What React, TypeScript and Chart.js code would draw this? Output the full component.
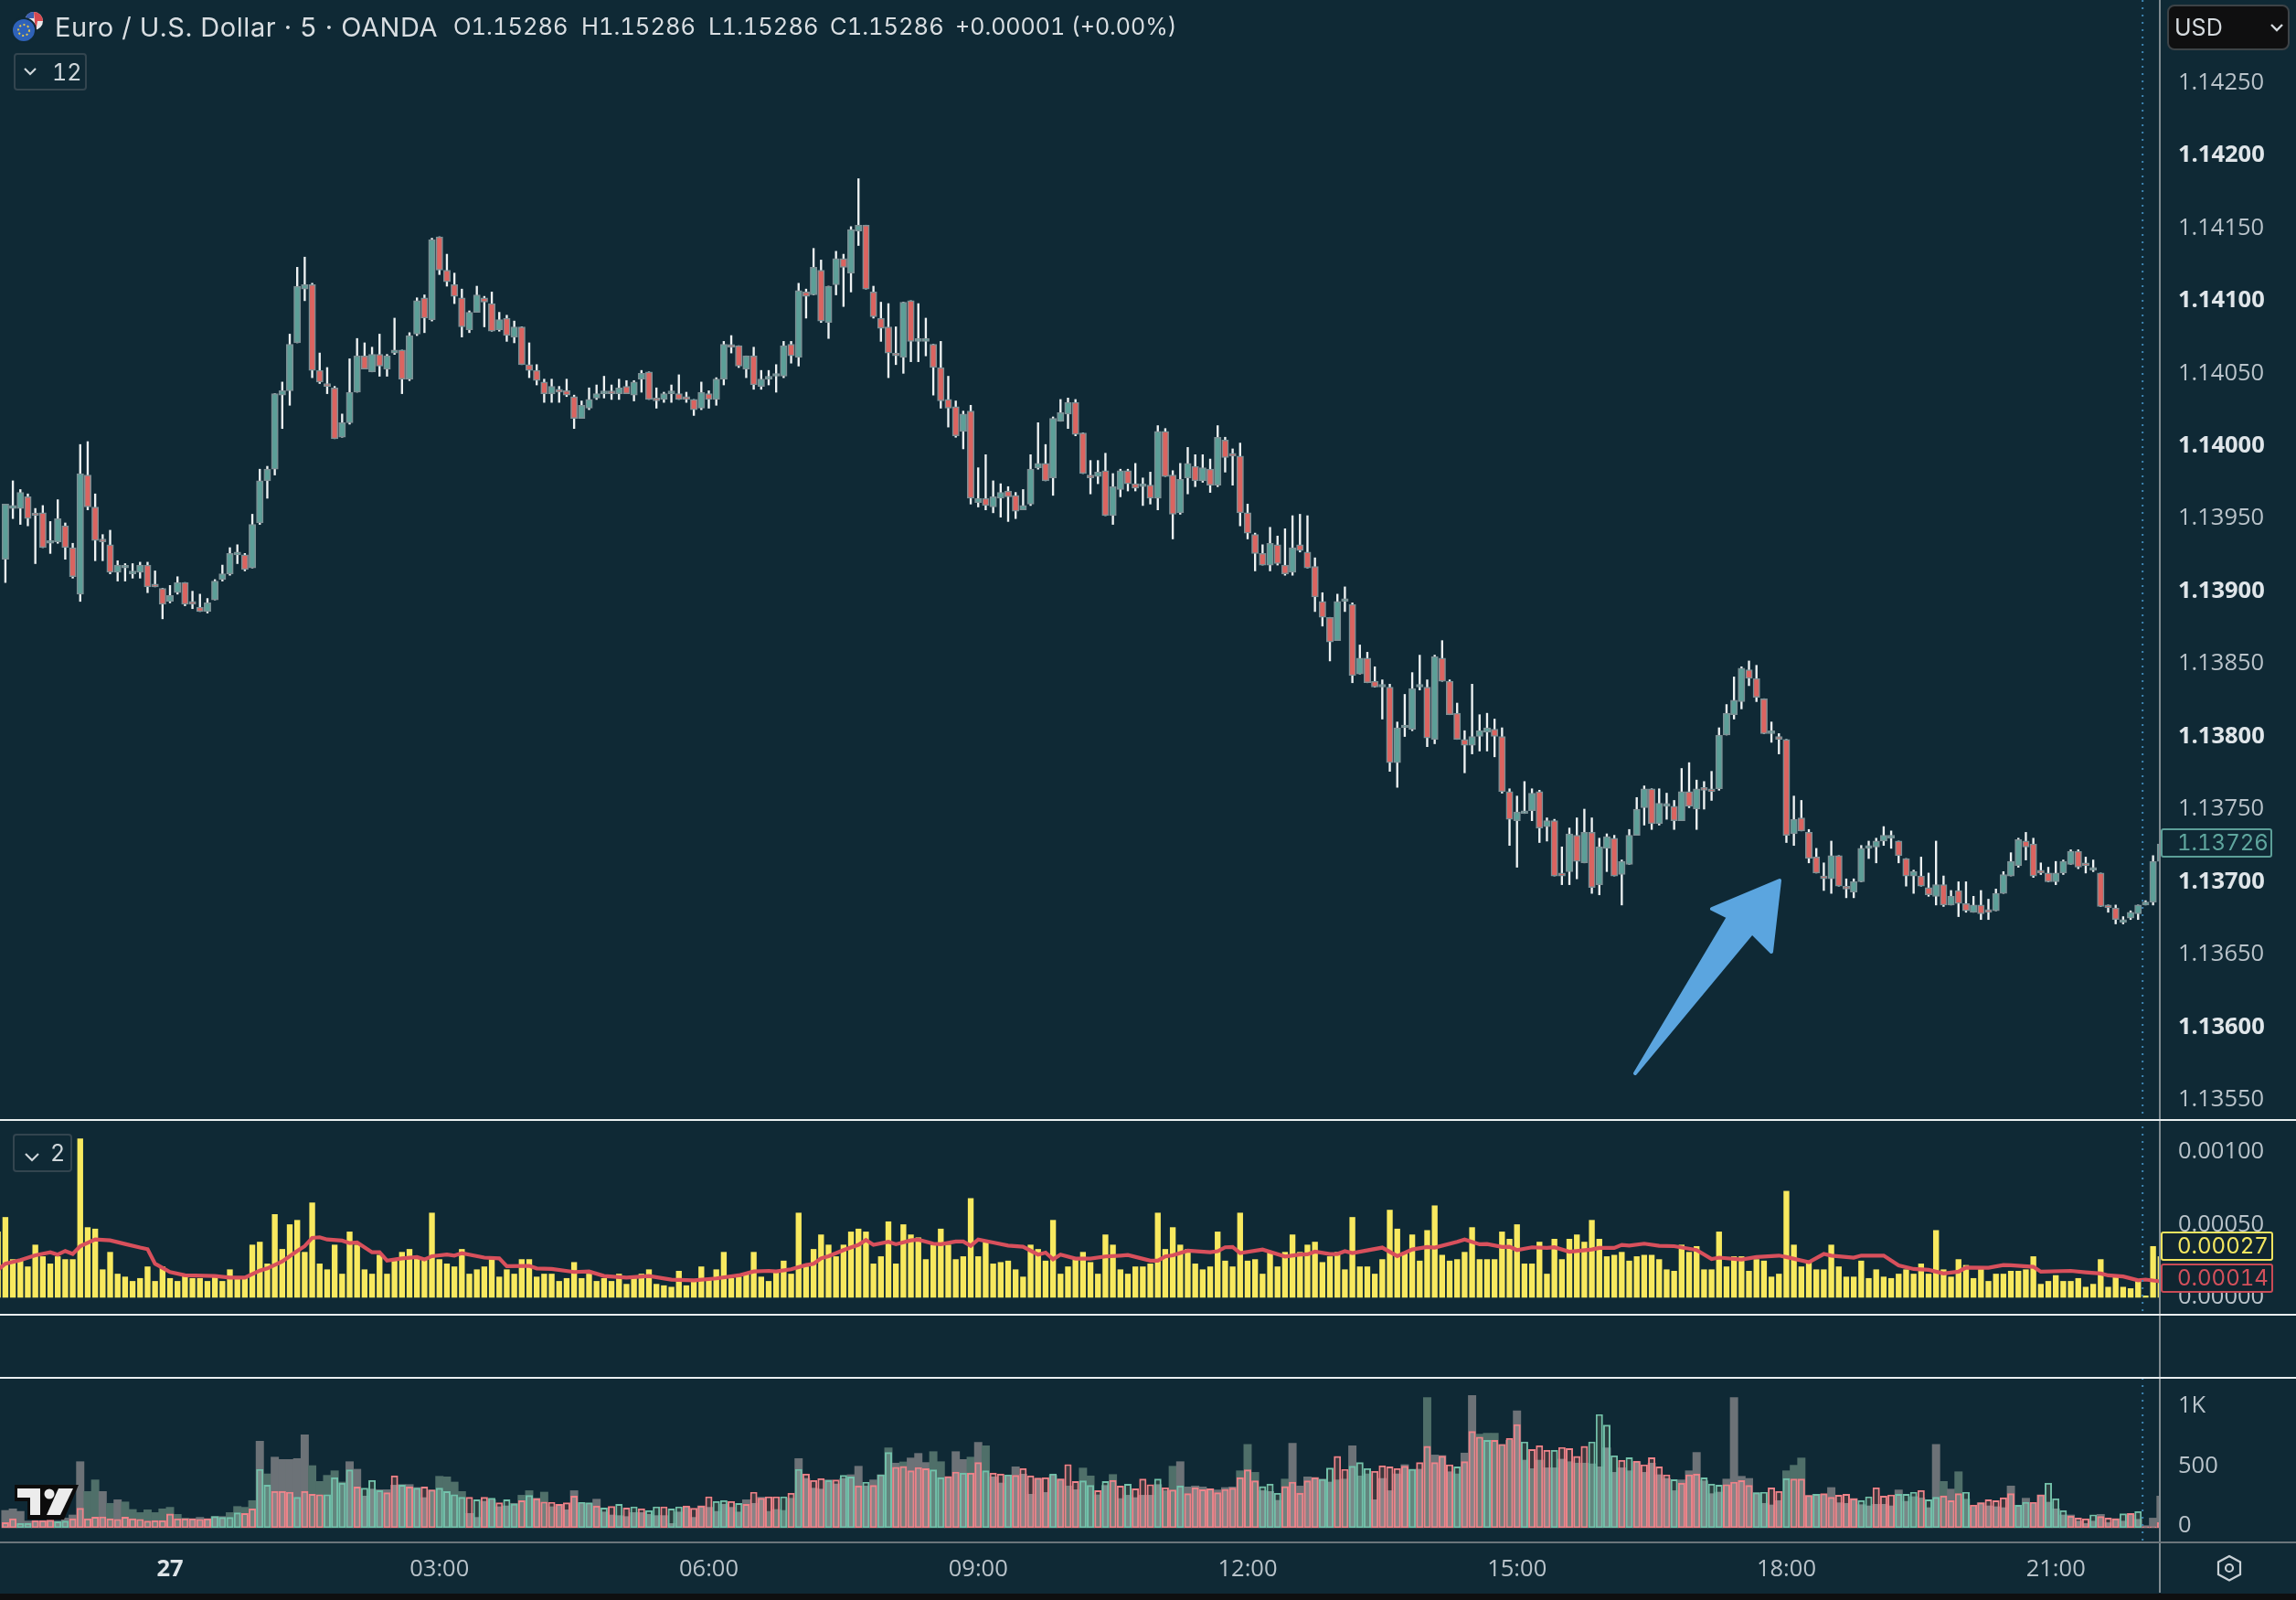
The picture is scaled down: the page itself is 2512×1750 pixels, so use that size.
import React, { useEffect, useRef } from "react";
import { Chart, registerables } from "chart.js";

Chart.register(...registerables);

// Candles: values are 1e-5 above 1.13000
const opens = [
922,957,957,965,953,954,933,934,945,930,
898,980,958,935,932,913,916,912,913,918,
904,902,893,899,906,893,889,886,894,908,
912,925,925,916,947,976,984,1035,1038,1071,
1108,1111,1052,1043,1040,1006,1016,1037,1062,1051,
1063,1053,1064,1066,1046,1077,1102,1087,1144,1121,
1111,1102,1080,1092,1102,1098,1080,1088,1075,1082,
1056,1052,1044,1036,1039,1038,1034,1019,1026,1033,
1036,1037,1036,1041,1035,1046,1051,1033,1032,1036,
1036,1033,1032,1026,1036,1032,1046,1069,1069,1053,
1062,1041,1046,1048,1048,1070,1061,1106,1104,1121,
1085,1111,1129,1119,1148,1152,1106,1088,1082,1063,
1061,1100,1072,1072,1070,1054,1032,1027,1010,1024,
961,964,958,964,969,966,956,960,985,988,
978,1017,1022,1030,1009,980,979,983,952,970,
983,974,972,973,964,1010,980,954,978,986,
976,984,973,1004,994,993,954,939,926,918,
932,918,913,932,927,917,893,882,866,893,
891,843,854,838,834,834,782,806,805,834,
834,798,854,838,816,798,794,800,803,805,
800,762,742,747,749,762,738,742,706,707,
732,713,734,698,723,730,705,712,732,751,
764,740,752,752,742,762,750,764,764,764,
801,815,824,846,840,826,802,800,798,733,
744,734,717,704,702,718,696,693,700,723,
724,728,730,728,716,704,704,696,690,698,
684,694,685,679,684,680,680,692,704,711,
728,726,708,706,700,706,712,721,712,708,
706,684,682,672,675,678,684,686,714];
const highs = [
960,976,970,967,957,959,948,963,947,933,
1001,1003,967,939,942,921,919,919,920,920,
914,902,904,910,906,900,898,895,908,918,
930,932,926,953,984,986,1036,1044,1077,1123,
1130,1112,1064,1054,1041,1022,1060,1074,1071,1068,
1077,1063,1088,1066,1078,1102,1104,1143,1144,1132,
1119,1108,1093,1110,1103,1106,1092,1090,1086,1082,
1071,1056,1046,1046,1041,1046,1035,1031,1040,1042,
1048,1042,1046,1045,1045,1052,1051,1040,1037,1042,
1049,1037,1032,1044,1038,1047,1072,1076,1069,1062,
1068,1052,1052,1056,1072,1072,1112,1108,1136,1128,
1110,1134,1132,1151,1184,1152,1110,1099,1098,1082,
1099,1100,1098,1088,1070,1072,1048,1031,1024,1028,
985,994,976,974,972,968,970,994,1016,1001,
1020,1032,1033,1032,1009,990,990,995,981,984,
984,988,978,982,1014,1012,983,988,999,994,
994,991,1014,1006,998,1002,960,940,932,944,
938,943,952,953,952,923,899,882,898,903,
892,863,858,848,839,836,810,829,844,856,
839,856,866,839,823,804,836,815,816,812,
806,764,759,769,764,763,744,743,724,737,
744,750,744,730,733,732,715,736,758,766,
764,764,761,756,778,782,770,769,776,806,
822,841,848,852,849,826,810,802,798,759,
756,736,723,713,728,718,702,702,725,728,
730,738,735,728,716,708,717,706,728,704,
694,700,700,690,694,688,695,707,720,730,
734,730,713,710,714,715,722,722,717,715,
706,684,684,676,680,684,687,718,734];
const lows = [
906,950,946,945,919,930,926,933,922,909,
893,956,921,921,912,907,907,909,909,899,
903,881,892,898,890,888,886,885,894,907,
911,919,914,916,946,964,980,1012,1028,1071,
1100,1047,1043,1036,1005,1006,1015,1037,1053,1051,
1048,1048,1063,1036,1045,1076,1078,1086,1118,1110,
1098,1075,1078,1092,1082,1079,1079,1072,1071,1056,
1047,1042,1030,1030,1030,1034,1012,1019,1025,1032,
1033,1032,1032,1036,1031,1037,1032,1026,1030,1030,
1032,1030,1021,1025,1026,1028,1042,1064,1054,1047,
1039,1039,1042,1037,1047,1057,1055,1088,1104,1085,
1074,1104,1096,1106,1138,1108,1088,1072,1047,1056,
1050,1058,1058,1062,1035,1026,1013,1006,998,960,
958,956,954,951,948,950,956,959,984,976,
966,1017,1012,1007,981,967,974,952,946,965,
969,969,959,960,956,979,936,953,967,972,
975,968,972,982,973,945,936,914,918,914,
918,911,911,927,916,886,876,852,866,886,
837,843,837,834,812,776,765,800,804,832,
793,795,838,815,798,775,788,790,790,786,
761,725,710,747,742,727,728,704,698,698,
702,713,692,691,707,704,684,712,732,739,
736,739,743,736,742,751,736,750,756,763,
801,812,819,835,824,802,796,788,727,725,
735,713,706,694,692,697,689,689,700,716,
713,725,723,713,697,692,697,690,684,683,
684,676,679,679,674,674,680,692,704,710,
715,703,705,700,698,705,712,709,706,707,
683,679,671,671,674,674,684,684,712];
const closes = [
960,959,968,950,952,930,934,950,930,910,
981,958,935,934,913,918,916,912,918,903,
903,891,897,906,891,891,886,892,907,912,
926,926,915,946,976,984,1036,1038,1070,1110,
1111,1052,1044,1041,1005,1016,1037,1062,1053,1063,
1055,1062,1066,1046,1076,1100,1088,1142,1121,1113,
1103,1082,1092,1104,1099,1079,1087,1076,1082,1056,
1052,1045,1036,1041,1037,1035,1019,1028,1032,1036,
1037,1036,1040,1036,1044,1050,1032,1031,1036,1037,
1032,1032,1025,1037,1032,1046,1070,1068,1055,1062,
1042,1046,1047,1049,1069,1062,1107,1103,1123,1086,
1110,1129,1123,1149,1152,1108,1089,1081,1064,1062,
1099,1072,1073,1074,1054,1031,1026,1007,1022,964,
964,959,965,968,965,955,959,984,988,976,
1019,1023,1030,1008,981,978,982,952,972,983,
974,971,972,964,1010,979,953,977,988,976,
985,973,1006,992,993,954,940,926,918,933,
919,912,930,928,916,896,882,865,893,893,
842,854,837,834,834,782,806,807,833,834,
799,855,838,815,798,794,800,804,806,800,
762,743,748,748,761,737,742,704,704,733,
714,734,696,724,731,704,714,732,750,764,
740,754,753,742,762,752,764,763,762,801,
816,825,847,840,827,802,802,798,732,743,
735,716,706,702,718,697,695,700,723,724,
728,732,732,718,704,707,697,691,698,684,
690,685,680,684,678,679,692,705,714,729,
724,704,706,700,706,714,721,710,711,708,
683,682,674,674,679,684,686,714,726];

// First ATR value belongs to the bar just left of the first candle (1e-5 units)
const atrValues = [45,
55,26,26,21,36,28,23,28,26,26,109,48,47,19,31,16,14,11,13,21,
11,21,13,11,16,13,13,11,14,11,19,13,13,36,38,23,57,33,50,53,
31,65,23,19,36,16,45,36,19,16,29,16,25,31,33,27,26,58,26,23,
21,33,16,19,21,26,14,19,16,26,26,14,16,16,11,13,24,13,16,11,
13,11,16,9,13,16,19,9,8,7,18,8,11,21,13,19,31,13,14,16,
31,14,11,18,25,16,58,21,33,43,36,28,36,45,47,45,23,28,52,23,
50,43,41,26,36,47,36,26,28,68,28,38,23,24,25,19,14,36,33,25,
53,16,21,26,31,24,16,43,36,19,16,21,21,23,58,33,48,36,33,23,
19,21,45,25,21,58,25,26,16,31,21,31,43,31,36,38,24,28,31,19,
55,21,21,16,26,60,47,31,43,25,46,63,29,25,26,31,48,26,26,26,
45,40,50,23,23,38,16,40,26,40,43,38,53,40,28,29,31,25,28,29,
29,26,19,18,36,31,35,19,19,45,21,28,28,18,26,25,14,16,73,36,
21,25,19,19,36,21,14,14,25,13,19,14,13,16,19,16,23,16,46,19,
14,26,22,13,21,11,16,16,18,18,19,28,9,11,15,11,11,13,7,9,
26,7,14,7,6,11,1,35,28];

const atrMaBars = [-1,0,2,4,6,7,8,9,10,12,14,16,18,19,20,22,24,28,30,32,34,35,37,39,40,41,42,43,45,46,47,49,50,51,53,55,56,57,59,60,61,64,66,67,70,71,73,76,78,80,83,86,89,92,95,98,100,
102,103,105,107,108,109,110,112,114,115,116,118,119,121,122,124,125,127,128,129,130,132,134,136,138,139,140,141,143,145,147,149,150,153,154,155,156,158,161,162,163,164,165,168,171,173,174,175,177,178,179,180,184,186,188,190,191,194,195,197,198,200,201,202,
204,206,207,209,212,213,215,216,217,219,221,223,226,228,229,232,234,237,238,241,243,244,247,248,251,253,255,257,259,261,262,265,267,268,271,272,276,278,280,281,283,285,286,288];
const atrMaValues = [18.9,23.1,25.6,28.9,31,29.4,31.9,29.8,35.2,39.8,39.2,36.7,34.2,33.1,23.1,17.4,15.1,14.7,13.6,13.6,18.4,19.9,24.7,31.9,35.2,40.9,41.3,39.8,39,37.3,37.7,31,31,25.2,26.8,27.7,26,28.3,29.4,28.7,30.4,27.3,26.8,21.4,21.6,19.9,19.5,17.4,17.8,14.7,13.6,14.7,12.2,11.7,13,15.1,17.8,
18.2,17.8,19.3,22.2,23.1,26.8,28.3,32.5,36.1,39.4,36.1,38.2,36.5,39.2,39.6,36.9,36.5,38.4,38.4,35.4,39.8,37.7,35.6,34.8,29.4,30.8,26.2,29.4,26.6,26.6,28.1,28.7,29.1,25.2,25.2,28.1,28.9,32.1,31,31.7,34.4,34.6,30.4,32.9,28.1,29.4,29.6,31.4,29.8,29.8,31.7,30.4,34.2,28.3,32.9,34.6,34.2,38.2,39.8,36.5,36.7,34.6,34.8,32.5,34.4,
34,34.4,31.4,32.9,34,34,36.1,35.6,36.9,35.4,35.2,32.5,26.4,27.3,26,27.7,28.7,27.7,24.1,29.8,28.7,27.3,28.7,28.7,22,19.5,18.9,16.4,17.6,20.5,20.3,22.2,22,21,17.6,18.2,17.2,16.4,15.1,14.3,11.7,12.2,10.9,10.1,13.6];

// Filled volume bars (behind) and outlined volume bars (front)
const volFilled = [
145,158,137,56,56,56,56,56,81,107,552,303,400,303,204,234,216,153,127,150,
127,158,171,112,81,76,87,76,94,94,127,178,171,227,723,450,590,570,570,578,
776,519,387,438,476,382,552,489,265,323,318,318,356,361,361,336,252,316,430,425,
382,303,120,87,221,234,176,183,204,272,310,247,298,176,196,150,310,209,204,239,
132,107,102,94,127,127,112,102,102,36,132,171,87,183,171,137,196,171,132,234,
204,255,137,153,145,247,578,412,331,323,400,366,412,443,514,349,400,443,667,540,
550,583,621,545,636,552,425,636,570,590,713,685,425,374,438,509,448,280,412,295,
438,407,349,318,499,433,275,354,445,244,272,252,272,272,361,310,514,552,341,349,
341,323,316,336,341,476,697,463,310,303,229,407,705,349,425,420,407,382,400,407,
685,433,450,234,412,310,450,527,489,489,1087,608,603,468,450,624,1105,781,789,789,
697,730,977,565,494,565,501,501,573,552,540,540,534,509,667,463,501,476,552,463,
540,443,412,310,400,476,629,392,285,298,407,1087,430,412,293,204,191,227,476,522,
583,270,280,280,336,209,204,244,193,183,196,196,183,316,221,260,249,168,697,387,
323,468,239,176,209,183,176,168,349,188,247,209,275,214,158,107,107,56,36,56,
112,43,76,56,107,71,18,81,265];
const volOutlined = [
43,76,38,38,61,61,64,51,56,76,163,76,89,92,76,71,89,76,71,56,
61,61,115,76,76,76,71,76,94,87,87,125,120,158,489,356,305,305,298,255,
305,280,277,277,420,374,484,341,331,397,310,293,435,356,341,331,341,316,331,303,
277,255,255,234,255,247,209,234,199,227,270,244,216,214,196,209,265,214,209,183,
165,178,196,165,176,160,145,176,176,158,176,183,163,183,260,221,229,221,204,196,
298,247,260,260,260,290,489,450,397,412,397,400,438,425,351,382,354,443,629,506,
512,476,504,494,484,420,428,466,458,458,545,476,458,450,443,438,496,435,415,420,
450,407,529,387,392,354,310,387,397,349,364,326,407,361,407,336,316,351,285,336,
318,326,293,321,331,420,484,392,344,366,290,344,382,290,392,420,405,499,596,489,
514,545,496,473,519,509,496,514,489,545,680,545,598,527,509,552,804,758,730,730,
697,748,863,718,654,687,649,649,672,662,596,680,718,947,858,603,565,585,557,527,
585,509,443,402,374,443,450,417,366,356,361,382,394,354,293,298,333,305,412,407,
407,270,280,285,255,272,280,244,229,260,336,265,275,280,280,298,313,234,255,267,
227,285,298,191,209,234,227,252,285,188,214,214,275,374,244,145,99,81,76,109,
94,81,76,117,120,137,10,10,43];
const volOutlineSides = "rrggrrrggrrrrrrrrrrrrrrrrrrrggggrrggrrrgrrrggggrgggrrgrgrrggggrgrgrggrgrrrrrrggrgrgrgrggrggrrrrggrgrrrrrgrgrrrgrggrgrggrrrrrggrrgrrgrrgrrrrrgrrrggrgrrgrrrgrrgrrrrrrrrrrgggrrrrrggrrgggrrrrrgrrrrrgrrrgrrrrgrrrgrrrrggggrgrrrrrgrrrgggrrrrggrrgrrrgrrrrrggrrrgggrggrrrgrrrrrrggrrgggrrrgrrrgrgrrr";
const volGreenTint = [11,12,14,16,17,18,19,20,21,22,23,24,30,31,32,33,35,41,42,43,44,45,57,58,59,60,61,69,70,72,73,102,103,104,105,118,120,124,125,129,131,142,144,145,146,148,149,155,156,165,166,167,171,178,179,181,182,188,190,194,197,198,199,200,201,204,205,209,210,211,212,238,239,240,255,256,259,261,262];

const timeTickBars = [22,58,94,130,166,202,238,274];
const timeTickLabels = ["27","03:00","06:00","09:00","12:00","15:00","18:00","21:00"];
const priceTicks = [1.1355,1.136,1.1365,1.137,1.1375,1.138,1.1385,1.139,1.1395,1.14,1.1405,1.141,1.1415,1.142,1.1425];
const atrTicks = [0,0.0005,0.001];
const volTicks = [0,500,1000];
const volTickLabels = ["0","500","1K"];
const sessionBreakBar = 285.6;

const BG = "#0f2935";
const UP = "#5c9f98";
const DOWN = "#db6460";
const EDGE = "#7d9095";
const WICK = "#eef2f3";
const TICK = "#b9c3ca";
const TICK_BOLD = "#dfe5e9";
const FONT = "Inter, 'DejaVu Sans', sans-serif";
const AXIS_FONT = "'Open Sans'";
const AXIS_SIZE = 25.5;
const PANE_IDS = ["yP", "yA", "yB", "yV"];

const px = (v: number) => 1.13 + v * 1e-5;
const idx = opens.map((_, i) => i);

function T({ x, y, size = 25.5, color = "#d9dee2", weight = 400, children, ls = 0 }: any) {
  return (
    <div style={{ position: "absolute", left: x, top: y, transform: "translateY(-50%)", font: `${weight} ${size}px ${FONT}`, fontVariantNumeric: "tabular-nums", color, whiteSpace: "nowrap", letterSpacing: ls, lineHeight: 1 }}>
      {children}
    </div>
  );
}
function Box({ x, y, w, h, border, bg = "transparent", r = 4, width = 2 }: any) {
  return <div style={{ position: "absolute", left: x, top: y, width: w, height: h, boxSizing: "border-box", border: `${width}px solid ${border}`, background: bg, borderRadius: r }} />;
}

const panes = {
  id: "panes",
  afterLayout(chart: any) {
    // lay the stacked price, ATR, blank and volume panes from the very top of the canvas
    const area = chart.chartArea;
    const bottom = area.bottom;
    const weights = PANE_IDS.map((id) => chart.scales[id].options.stackWeight);
    const total = weights.reduce((a: number, b: number) => a + b, 0);
    let y = 0;
    PANE_IDS.forEach((id, i) => {
      const s = chart.scales[id];
      const h = (bottom * weights[i]) / total;
      s.top = y;
      s.bottom = y + h;
      s.height = h;
      s.configure();
      y += h;
    });
    area.top = 0;
    area.height = bottom;
  },
  afterDatasetsDraw(chart: any) {
    const { ctx, chartArea, scales, width } = chart;
    const right = chartArea.right;
    ctx.save();
    const bx = scales.x.getPixelForValue(sessionBreakBar);
    ctx.strokeStyle = "#3f86b4";
    ctx.lineWidth = 2;
    ctx.setLineDash([2, 6]);
    for (const [a, b] of [[0, scales.yA.bottom], [scales.yV.top, scales.yV.bottom]]) {
      ctx.beginPath();
      ctx.moveTo(bx, a);
      ctx.lineTo(bx, b);
      ctx.stroke();
    }
    ctx.setLineDash([]);
    ctx.strokeStyle = "#7f8a90";
    ctx.lineWidth = 2;
    ctx.beginPath();
    ctx.moveTo(right, 0);
    ctx.lineTo(right, 1742);
    ctx.stroke();
    ctx.strokeStyle = "#e9eef0";
    for (const y of [scales.yP.bottom, scales.yA.bottom, scales.yB.bottom]) {
      ctx.beginPath();
      ctx.moveTo(0, y);
      ctx.lineTo(width, y);
      ctx.stroke();
    }
    ctx.strokeStyle = "#6b757b";
    ctx.beginPath();
    ctx.moveTo(0, scales.yV.bottom);
    ctx.lineTo(width, scales.yV.bottom);
    ctx.stroke();
    ctx.fillStyle = "#0e0f10";
    ctx.fillRect(0, 1743, width, 7);
    ctx.restore();
  },
};

export default function App() {
  const ref = useRef<HTMLCanvasElement>(null);
  useEffect(() => {
    document.body.style.margin = "0";
    document.body.style.background = BG;
    const fixW = (s: any) => { s.width = 149; };
    const yCommon = {
      position: "right" as const,
      stack: "panes",
      grid: { display: false, drawTicks: false },
      border: { display: false },
      afterFit: fixW,
    };
    const tickStyle = { color: TICK, padding: 20, crossAlign: "near" as const, autoSkip: false, font: { family: AXIS_FONT, size: AXIS_SIZE } };
    const bar = { type: "bar" as const, grouped: false, xAxisID: "x" };
    const chart = new Chart(ref.current as any, {
      type: "bar",
      data: {
        datasets: [
          { ...bar, order: 20, yAxisID: "yP", barThickness: 1.7, backgroundColor: WICK,
            data: idx.map((i) => ({ x: i, y: [px(lows[i]), px(highs[i])] })) },
          { ...bar, order: 19, yAxisID: "yP", barThickness: 7.4, minBarLength: 3, borderWidth: 1.5, borderSkipped: false, borderColor: EDGE,
            backgroundColor: idx.map((i) => (closes[i] >= opens[i] ? UP : DOWN)),
            data: idx.map((i) => ({ x: i, y: [px(opens[i]), px(closes[i])] })) },
          { ...bar, order: 10, yAxisID: "yA", barThickness: 5.7, backgroundColor: "#f8e95f",
            data: atrValues.map((v, i) => ({ x: i - 1, y: v * 1e-5 })) },
          { type: "line" as const, order: 9, xAxisID: "x", yAxisID: "yA", borderColor: "#d8505c", borderWidth: 4.2, pointRadius: 0, tension: 0,
            data: atrMaBars.map((b, i) => ({ x: b, y: atrMaValues[i] * 1e-5 })) },
          { ...bar, order: 8, yAxisID: "yV", barThickness: 7.4, backgroundColor: "rgba(8,17,22,0.9)",
            data: idx.map((i) => ({ x: i, y: volOutlined[i] })) },
          { ...bar, order: 7, yAxisID: "yV", barThickness: 8.3,
            backgroundColor: idx.map((i) => (volGreenTint.includes(i) ? "#4f6f69" : "#6c7277")),
            data: idx.map((i) => ({ x: i, y: volFilled[i] })) },
          { ...bar, order: 6, yAxisID: "yV", barThickness: 7.4, borderWidth: 1.3, borderSkipped: false,
            borderColor: idx.map((i) => (volOutlineSides[i] === "r" ? "#ee7f86" : "#6fc0a9")),
            backgroundColor: idx.map((i) => (volOutlineSides[i] === "r" ? "rgba(240,190,190,0.22)" : "rgba(170,220,200,0.22)")),
            data: idx.map((i) => ({ x: i, y: volOutlined[i] })) },
        ] as any,
      },
      plugins: [panes],
      options: {
        animation: false,
        responsive: false,
        devicePixelRatio: 1,
        layout: { padding: 0, autoPadding: false },
        plugins: { legend: { display: false }, tooltip: { enabled: false } },
        scales: {
          x: {
            type: "linear", position: "bottom", min: -0.72, max: 287.9, offset: false,
            grid: { display: false, drawTicks: false },
            border: { display: false },
            afterFit: (s: any) => { s.height = 63; },
            afterBuildTicks: (s: any) => { s.ticks = timeTickBars.map((value) => ({ value })); },
            ticks: {
              autoSkip: false, maxRotation: 0, padding: 14, color: (c: any) => (c.tick.value === timeTickBars[0] ? TICK_BOLD : TICK),
              font: (c: any) => ({ family: AXIS_FONT, size: AXIS_SIZE, weight: c.tick && c.tick.value === timeTickBars[0] ? "700" : "400" }),
              callback: (v: any) => timeTickLabels[timeTickBars.indexOf(v)],
            },
          },
          yP: {
            ...yCommon, stackWeight: 1225, min: 1.13536, max: 1.14307,
            afterBuildTicks: (s: any) => { s.ticks = priceTicks.map((value) => ({ value })); },
            ticks: {
              ...tickStyle,
              color: (c: any) => (Math.round(c.tick.value * 1e5) % 100 === 0 ? TICK_BOLD : TICK),
              font: (c: any) => ({ family: AXIS_FONT, size: AXIS_SIZE, weight: c.tick && Math.round(c.tick.value * 1e5) % 100 === 0 ? "700" : "400" }),
              callback: (v: any) => Number(v).toFixed(5),
            },
          },
          yA: {
            ...yCommon, stackWeight: 213, min: -0.00012, max: 0.00122,
            afterBuildTicks: (s: any) => { s.ticks = atrTicks.map((value) => ({ value })); },
            ticks: { ...tickStyle, callback: (v: any) => Number(v).toFixed(5) },
          },
          yB: { ...yCommon, stackWeight: 69, min: 0, max: 1, ticks: { display: false } },
          yV: {
            ...yCommon, stackWeight: 180, min: -122, max: 1252,
            afterBuildTicks: (s: any) => { s.ticks = volTicks.map((value) => ({ value })); },
            ticks: { ...tickStyle, labelOffset: -2, callback: (v: any) => volTickLabels[volTicks.indexOf(v)] },
          },
        },
      } as any,
    });
    return () => chart.destroy();
  }, []);

  return (
    <div style={{ position: "absolute", left: 0, top: 0, width: 2512, height: 1750, background: BG, overflow: "hidden" }}>
      <canvas ref={ref} width={2512} height={1750} style={{ position: "absolute", left: 0, top: 0, width: 2512, height: 1750, display: "block" }} />

      <svg width={2512} height={1750} style={{ position: "absolute", left: 0, top: 0 }}>
        <circle cx={37} cy={23} r={10} fill="#e8e8ea" />
        <path d="M37 13 a10 10 0 0 1 10 10 h-6 l-2 12 z" fill="#d8494f" />
        <path d="M29 17 a10 10 0 0 1 8 -4 v7 h-9 z" fill="#3b5fb0" />
        <circle cx={26} cy={33} r={13} fill="#2f62b8" stroke={BG} strokeWidth={2} />
        <circle cx={26} cy={33} r={6} fill="none" stroke="#e3c44a" strokeWidth={2} strokeDasharray="2 2.5" />
        <path d="M1789 1174 L1891 1003 L1873 994 L1947 963 L1938 1041 L1917 1020 Z" fill="#5ba5df" stroke="#5ba5df" strokeWidth={4} strokeLinejoin="round" />
        <polygon points="16,1624 86,1624 70,1662 30,1662 30,1642 16,1642" fill="#0c0c0c" />
        <polygon points="19,1628 44,1628 44,1657 33,1657 33,1638 19,1638" fill="#ececec" />
        <circle cx={54} cy={1634} r={5.5} fill="#ececec" />
        <polygon points="64,1628 80,1628 66,1657 51,1657" fill="#ececec" />
        <polyline points="27,75 33,81 39,75" fill="none" stroke="#cfd6da" strokeWidth={2.2} />
        <polyline points="28,1262 35,1269 42,1262" fill="none" stroke="#cfd6da" strokeWidth={2.2} />
        <polygon points="2439,1702 2451,1708.5 2451,1722 2439,1728.5 2427,1722 2427,1708.5" fill="none" stroke="#c9d1d6" strokeWidth={2.2} />
        <circle cx={2439} cy={1715} r={4} fill="none" stroke="#c9d1d6" strokeWidth={2.2} />
      </svg>

      <T x={60} y={29} size={29} ls={0.6}>Euro / U.S. Dollar · 5 · OANDA</T>
      <T x={496} y={29}>O1.15286</T>
      <T x={636} y={29}>H1.15286</T>
      <T x={775} y={29}>L1.15286</T>
      <T x={908} y={29}>C1.15286</T>
      <T x={1045} y={29} size={25}>+0.00001 (+0.00%)</T>

      <Box x={15} y={58} w={80} h={41} border="#33454f" />
      <T x={57} y={79} size={25} color="#cfd6da">12</T>
      <Box x={14} y={1240} w={65} h={42} border="#33454f" />
      <T x={55} y={1261} size={25} color="#cfd6da">2</T>

      <Box x={2371} y={5} w={134} h={50} border="#3d4347" bg="#0f0f10" r={8} />
      <T x={2379} y={30} size={25} color="#d5dade">USD</T>
      <svg width={20} height={14} style={{ position: "absolute", left: 2481, top: 24 }}>
        <polyline points="4,3 10,9 16,3" fill="none" stroke="#d5dade" strokeWidth={2.4} />
      </svg>

      <Box x={2364} y={906} w={122} h={32} border="#5c9f98" bg={BG} r={3} />
      <T x={2382} y={922} size={24} color="#5fa69e">1.13726</T>
      <Box x={2364} y={1347} w={123} h={32} border="#f1e35e" bg="#102530" r={3} />
      <T x={2382} y={1363} size={24} color="#f4e660">0.00027</T>
      <Box x={2364} y={1382} w={123} h={32} border="#c94a55" bg="#102530" r={3} />
      <T x={2382} y={1398} size={24} color="#d2505b">0.00014</T>
    </div>
  );
}
